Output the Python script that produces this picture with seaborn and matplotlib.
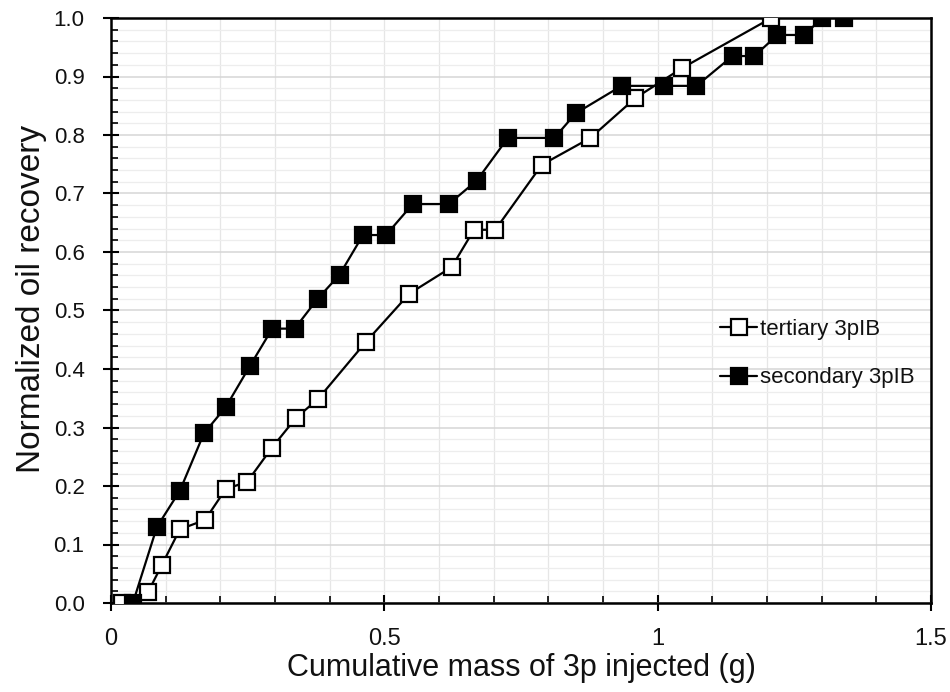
import matplotlib
matplotlib.use('Agg')
import matplotlib.pyplot as plt
import seaborn as sns
import pandas as pd
from matplotlib.ticker import MultipleLocator, FuncFormatter

# ---- data ----
series_names = ['tertiary 3pIB', 'secondary 3pIB']
tert_x = [0.020, 0.068, 0.093, 0.126, 0.172, 0.210, 0.249, 0.294, 0.338, 0.379,
          0.466, 0.546, 0.623, 0.664, 0.703, 0.788, 0.877, 0.959, 1.044, 1.208]
tert_y = [0.000, 0.019, 0.065, 0.126, 0.142, 0.195, 0.207, 0.265, 0.316, 0.349,
          0.446, 0.529, 0.574, 0.638, 0.638, 0.749, 0.795, 0.863, 0.914, 1.000]
sec_x = [0.040, 0.084, 0.126, 0.170, 0.210, 0.254, 0.295, 0.336, 0.378, 0.418,
         0.461, 0.503, 0.552, 0.618, 0.669, 0.726, 0.811, 0.850, 0.934, 1.012,
         1.071, 1.137, 1.177, 1.219, 1.268, 1.301, 1.341]
sec_y = [0.000, 0.130, 0.192, 0.290, 0.335, 0.405, 0.469, 0.469, 0.520, 0.561,
         0.629, 0.629, 0.682, 0.682, 0.722, 0.795, 0.795, 0.837, 0.884, 0.884,
         0.884, 0.935, 0.935, 0.971, 0.971, 1.000, 1.000]
x_label = 'Cumulative mass of 3p injected (g)'
y_label = 'Normalized oil recovery'

sns.set_theme(style='white')
plt.rcParams['font.family'] = ['Liberation Sans', 'DejaVu Sans']

fig, ax = plt.subplots(figsize=(9.5, 6.92), dpi=100)
fig.subplots_adjust(left=111/950, right=931/950, top=1-18/692, bottom=1-603/692)

df_t = pd.DataFrame({'x': tert_x, 'y': tert_y})
df_s = pd.DataFrame({'x': sec_x, 'y': sec_y})

sns.lineplot(data=df_t, x='x', y='y', ax=ax, color='black', linewidth=1.6,
             marker='s', markersize=11, markerfacecolor='white',
             markeredgecolor='black', markeredgewidth=1.6,
             estimator=None, sort=False, label=series_names[0], zorder=3)
sns.lineplot(data=df_s, x='x', y='y', ax=ax, color='black', linewidth=1.6,
             marker='s', markersize=11, markerfacecolor='black',
             markeredgecolor='black', markeredgewidth=1.6,
             estimator=None, sort=False, label=series_names[1], zorder=3)

ax.set_xlim(0, 1.5)
ax.set_ylim(0, 1.0)
ax.xaxis.set_major_locator(MultipleLocator(0.5))
ax.xaxis.set_minor_locator(MultipleLocator(0.1))
ax.yaxis.set_major_locator(MultipleLocator(0.1))
ax.yaxis.set_minor_locator(MultipleLocator(0.02))
ax.xaxis.set_major_formatter(FuncFormatter(lambda v, p: f'{v:g}'))
ax.yaxis.set_major_formatter(FuncFormatter(lambda v, p: f'{v:.1f}'))

ax.set_axisbelow(True)
ax.grid(axis='y', which='major', color='#d6d6d6', linewidth=1.1)
ax.grid(axis='y', which='minor', color='#ededed', linewidth=0.9)
ax.grid(axis='x', which='both', color='#e6e6e6', linewidth=0.9)

for s in ax.spines.values():
    s.set_visible(True)
    s.set_color('black')
    s.set_linewidth(1.8)

ax.tick_params(axis='both', which='major', direction='inout', length=12,
               width=1.5, color='black', bottom=True, left=True)
ax.tick_params(axis='both', which='minor', direction='in', length=5,
               width=1.2, color='black', bottom=True, left=True)
ax.tick_params(axis='y', which='major', labelsize=16, pad=13, labelcolor='#111111')
ax.tick_params(axis='x', which='major', labelsize=17, pad=12, labelcolor='#111111')

ax.set_xlabel(x_label, fontsize=22, color='#111111', labelpad=2)
ax.set_ylabel(y_label, fontsize=24, color='#111111', labelpad=5)
ax.yaxis.label.set_y(0.52)

leg = ax.legend(loc='upper left', bbox_to_anchor=(0.743, 0.486), frameon=False,
                fontsize=16, handlelength=1.67, handletextpad=0.14,
                labelspacing=1.25, borderpad=0, borderaxespad=0, numpoints=1)
for t in leg.get_texts():
    t.set_color('#111111')

fig.savefig('out.png', dpi=100)
